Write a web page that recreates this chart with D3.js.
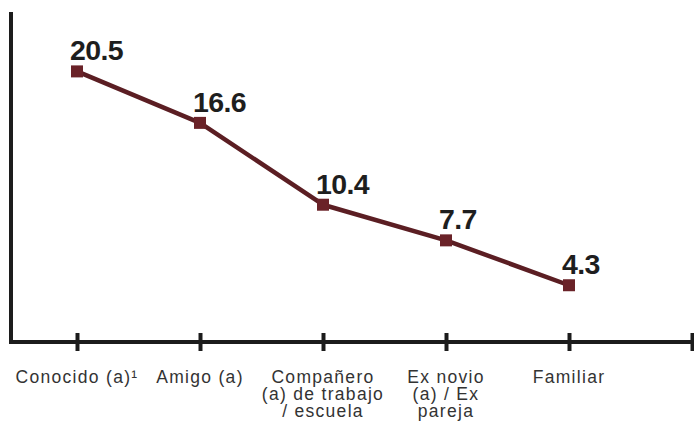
<!DOCTYPE html>
<html>
<head>
<meta charset="utf-8">
<script src="https://cdn.jsdelivr.net/npm/d3@7"></script>
<style>
  body { margin: 0; background: #fff; }
  svg { display: block; }
</style>
</head>
<body>
<div id="chart"></div>
<script>
// data
let categories = ["Conocido (a)¹", "Amigo (a)", "Compañero\n(a) de trabajo\n/ escuela", "Ex novio\n(a) / Ex\npareja", "Familiar"];
let values = [20.5, 16.6, 10.4, 7.7, 4.3];
let valueLabels = ["20.5", "16.6", "10.4", "7.7", "4.3"];

let width = 694, height = 421;
let svg = d3.select("#chart").append("svg")
    .attr("width", width)
    .attr("height", height);

// scales: one extra empty slot at the right end of the x axis
let xScale = d3.scaleLinear()
    .domain([0, categories.length])
    .range([77, 692]);
let yScale = d3.scaleLinear()
    .domain([0, 25])
    .range([342, 12]);

// y axis (plain line)
svg.append("line")
    .attr("x1", 11).attr("x2", 11)
    .attr("y1", yScale(25)).attr("y2", yScale(0) + 2)
    .attr("stroke", "#1c1c1c")
    .attr("stroke-width", 4);

// x axis
let xAxis = d3.axisBottom(xScale)
    .tickValues(d3.range(categories.length + 1))
    .tickSize(0)
    .tickFormat("");
let xAx = svg.append("g")
    .attr("transform", "translate(0," + yScale(0) + ")")
    .call(xAxis);
xAx.select(".domain").remove();
xAx.append("line")
    .attr("x1", 9).attr("x2", width)
    .attr("y1", 0).attr("y2", 0)
    .attr("stroke", "#1c1c1c")
    .attr("stroke-width", 4);
xAx.selectAll(".tick").append("line")
    .attr("y1", -9).attr("y2", 9)
    .attr("stroke", "#1c1c1c")
    .attr("stroke-width", 4);

// category labels
let labels = svg.append("g").selectAll("text")
    .data(categories)
    .enter().append("text")
    .attr("x", (d, i) => xScale(i))
    .attr("y", 383)
    .attr("text-anchor", "middle")
    .style("font-family", "'Liberation Sans', Arial, sans-serif")
    .style("font-size", "17.5px")
    .style("letter-spacing", "1.3px")
    .style("fill", "#333");
labels.each(function (d) {
    let t = d3.select(this);
    d.split("\n").forEach((line, k) => {
        t.append("tspan")
            .attr("x", t.attr("x"))
            .attr("dy", k === 0 ? 0 : 17)
            .text(line);
    });
});

// line
let line = d3.line()
    .x((d, i) => xScale(i))
    .y(d => yScale(d));
svg.append("path")
    .datum(values)
    .attr("d", line)
    .attr("fill", "none")
    .attr("stroke", "#5b1e23")
    .attr("stroke-width", 4.5)
    .attr("stroke-linejoin", "round");

// markers
svg.selectAll("rect.marker")
    .data(values)
    .enter().append("rect")
    .attr("class", "marker")
    .attr("x", (d, i) => xScale(i) - 6)
    .attr("y", d => yScale(d) - 6)
    .attr("width", 12)
    .attr("height", 12)
    .attr("fill", "#6a2228");

// value labels
svg.selectAll("text.value")
    .data(values)
    .enter().append("text")
    .attr("class", "value")
    .attr("x", (d, i) => xScale(i) - 7)
    .attr("y", d => yScale(d) - 11)
    .style("font-family", "'Liberation Sans', Arial, sans-serif")
    .style("font-weight", "bold")
    .style("font-size", "28.5px")
    .style("letter-spacing", "-0.6px")
    .style("fill", "#1e1e1e")
    .text((d, i) => valueLabels[i]);
</script>
</body>
</html>
